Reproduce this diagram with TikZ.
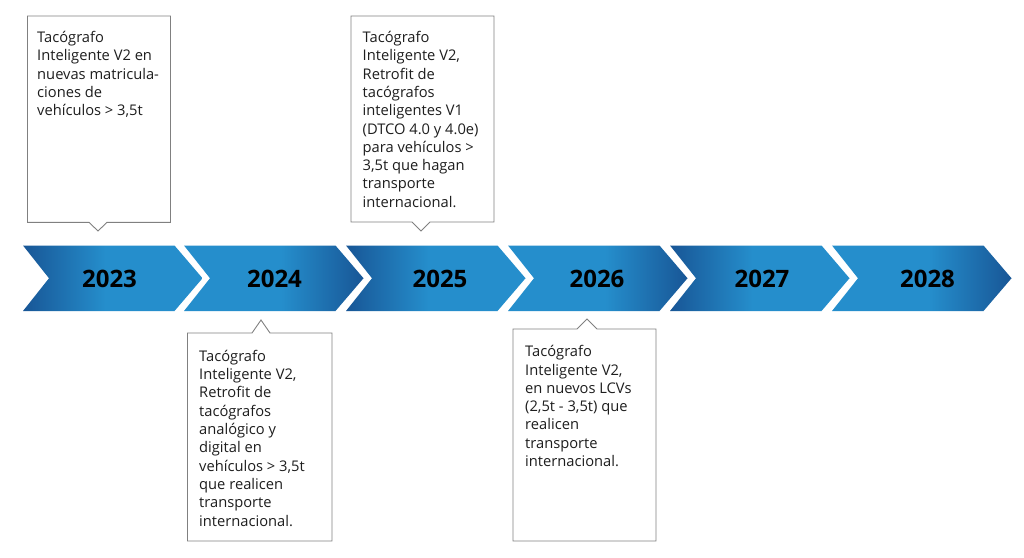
\documentclass[tikz,border=0pt]{standalone}
\usepackage{fontspec}
\setmainfont{Open Sans}
\definecolor{chdark}{RGB}{24,86,150}
\definecolor{chlight}{RGB}{37,142,204}
\definecolor{boxline}{RGB}{128,128,128}
\definecolor{txt}{RGB}{30,30,30}
\pgfdeclarehorizontalshading{chevdl}{100bp}{color(0bp)=(chdark); color(25bp)=(chdark); color(48bp)=(chlight); color(75bp)=(chlight); color(100bp)=(chlight)}
\pgfdeclarehorizontalshading{chevld}{100bp}{color(0bp)=(chlight); color(25bp)=(chlight); color(52bp)=(chlight); color(75bp)=(chdark); color(100bp)=(chdark)}
\tikzset{
  boxshape/.style={draw=boxline, line width=0.9pt, fill=white},
  boxtext/.style={anchor=base west, inner sep=0pt, align=left, text=txt,
    font=\fontsize{14.7}{18.3}\selectfont},
  yeartext/.style={inner sep=0pt, text=black, font=\fontsize{24}{28}\selectfont\bfseries},
}
\begin{document}
\begin{tikzpicture}[x=1pt,y=-1pt]
\useasboundingbox (0,0) rectangle (1024,557);
\fill[white] (0,0) rectangle (1024,557);
% chevrons
\foreach \L/\sh in {23/chevdl,184/chevld,346/chevdl,508/chevld,670/chevdl,832/chevld}{
  \shade[shading=\sh] (\L,245.5) -- ++(151.5,0) -- ++(28,32.75) -- ++(-28,32.75) -- ++(-151.5,0) -- ++(26,-32.75) -- cycle;
}
\node[yeartext] (y2023) at (109.5,278.5) {2023};
\node[yeartext] (y2024) at (274.5,278.5) {2024};
\node[yeartext] (y2025) at (440,278.5) {2025};
\node[yeartext] (y2026) at (597,278.5) {2026};
\node[yeartext] (y2027) at (762,278.5) {2027};
\node[yeartext] (y2028) at (927.5,278.5) {2028};
% callout boxes
\draw[boxshape] (27.5,16) -- (170.5,16) -- (170.5,222.3) -- (107,222.3) -- (98,231) -- (89,222.3) -- (27.5,222.3) -- cycle;
\draw[boxshape] (351,16) -- (494,16) -- (494,222) -- (430,222) -- (421,231) -- (412,222) -- (351,222) -- cycle;
\draw[boxshape] (187.5,333) -- (252,333) -- (261,320) -- (270,333) -- (332,333) -- (332,541) -- (187.5,541) -- cycle;
\draw[boxshape] (513,329) -- (577,329) -- (587,319) -- (597,329) -- (656,329) -- (656,541) -- (513,541) -- cycle;
% texts: anchored at the baseline of their last line
\node[boxtext] (t1) at (37,115.7) {Tacógrafo\\Inteligente V2 en\\nuevas matricula-\\ciones de\\vehículos > 3,5t};
\node[boxtext] (t3) at (362.5,207.2) {Tacógrafo\\Inteligente V2,\\Retrofit de\\tacógrafos\\inteligentes V1\\(DTCO 4.0 y 4.0e)\\para vehículos >\\3,5t que hagan\\transporte\\internacional.};
\node[boxtext] (t2) at (199,526) {Tacógrafo\\Inteligente V2,\\Retrofit de\\tacógrafos\\analógico y\\digital en\\vehículos > 3,5t\\que realicen\\transporte\\internacional.};
\node[boxtext] (t4) at (525,466.5) {Tacógrafo\\Inteligente V2,\\en nuevos LCVs\\(2,5t - 3,5t) que\\realicen\\transporte\\internacional.};
\end{tikzpicture}
\end{document}
